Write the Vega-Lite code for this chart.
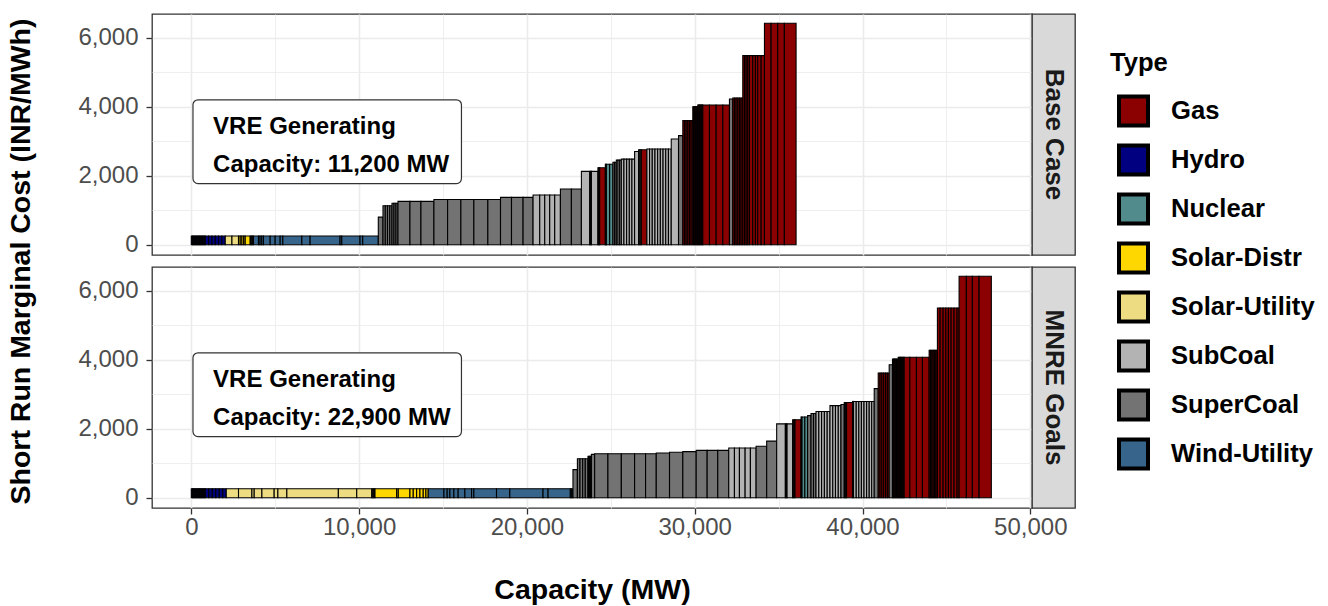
{
  "$schema": "https://vega.github.io/schema/vega-lite/v6.json",
  "background": "white",
  "padding": {"left": 6, "top": 13, "right": 0, "bottom": 0},
  "config": {
    "font": "Liberation Sans",
    "view": {"stroke": "#333333", "strokeWidth": 1.3},
    "axis": {
      "domain": false,
      "gridColor": "#EBEBEB",
      "tickColor": "#333333",
      "tickSize": 6,
      "tickWidth": 1.3,
      "labelFont": "Liberation Sans",
      "labelFontSize": 24,
      "labelColor": "#4D4D4D",
      "labelFlush": false,
      "labelOverlap": false,
      "titleFont": "Liberation Sans",
      "titleFontSize": 28.5,
      "titleFontWeight": "bold",
      "titleColor": "#000000"
    },
    "legend": {
      "orient": "none",
      "legendX": 958,
      "legendY": 37,
      "padding": 0,
      "titleFont": "Liberation Sans",
      "titleFontSize": 25.6,
      "titleFontWeight": "bold",
      "titleColor": "#000000",
      "titlePadding": 18,
      "labelFont": "Liberation Sans",
      "labelFontSize": 25.6,
      "labelFontWeight": "bold",
      "labelColor": "#000000",
      "labelOffset": 21,
      "symbolType": "square",
      "symbolSize": 841,
      "symbolStrokeWidth": 4,
      "symbolStrokeColor": "#000000",
      "symbolOffset": 7,
      "rowPadding": 4
    }
  },
  "datasets": {
    "base": [
      {"type":"Hydro","x0":0,"x1":70,"cost":250},
      {"type":"Hydro","x0":70,"x1":140,"cost":250},
      {"type":"Hydro","x0":140,"x1":210,"cost":250},
      {"type":"Hydro","x0":210,"x1":280,"cost":250},
      {"type":"Hydro","x0":280,"x1":350,"cost":250},
      {"type":"Hydro","x0":350,"x1":420,"cost":250},
      {"type":"Hydro","x0":420,"x1":490,"cost":250},
      {"type":"Hydro","x0":490,"x1":560,"cost":250},
      {"type":"Hydro","x0":560,"x1":630,"cost":250},
      {"type":"Hydro","x0":630,"x1":700,"cost":250},
      {"type":"Hydro","x0":700,"x1":770,"cost":250},
      {"type":"Hydro","x0":770,"x1":833,"cost":250},
      {"type":"Hydro","x0":833,"x1":1031,"cost":250},
      {"type":"Hydro","x0":1031,"x1":1229,"cost":250},
      {"type":"Hydro","x0":1229,"x1":1427,"cost":250},
      {"type":"Hydro","x0":1427,"x1":1625,"cost":250},
      {"type":"Hydro","x0":1625,"x1":1823,"cost":250},
      {"type":"Hydro","x0":1823,"x1":2023,"cost":250},
      {"type":"Solar-Utility","x0":2023,"x1":2422,"cost":250},
      {"type":"Solar-Utility","x0":2422,"x1":2814,"cost":250},
      {"type":"Solar-Distr","x0":2814,"x1":2916,"cost":250},
      {"type":"Solar-Distr","x0":2916,"x1":3017,"cost":250},
      {"type":"Solar-Distr","x0":3017,"x1":3124,"cost":250},
      {"type":"Solar-Distr","x0":3124,"x1":3213,"cost":250},
      {"type":"Solar-Distr","x0":3213,"x1":3511,"cost":250},
      {"type":"Solar-Distr","x0":3511,"x1":3570,"cost":250},
      {"type":"Solar-Distr","x0":3570,"x1":3640,"cost":250},
      {"type":"Solar-Distr","x0":3640,"x1":3707,"cost":250},
      {"type":"Wind-Utility","x0":3707,"x1":4004,"cost":250},
      {"type":"Wind-Utility","x0":4004,"x1":4100,"cost":250},
      {"type":"Wind-Utility","x0":4100,"x1":4200,"cost":250},
      {"type":"Wind-Utility","x0":4200,"x1":4302,"cost":250},
      {"type":"Wind-Utility","x0":4302,"x1":4700,"cost":250},
      {"type":"Wind-Utility","x0":4700,"x1":4998,"cost":250},
      {"type":"Wind-Utility","x0":4998,"x1":5296,"cost":250},
      {"type":"Wind-Utility","x0":5296,"x1":5455,"cost":250},
      {"type":"Wind-Utility","x0":5455,"x1":6587,"cost":250},
      {"type":"Wind-Utility","x0":6587,"x1":7081,"cost":250},
      {"type":"Wind-Utility","x0":7081,"x1":8866,"cost":250},
      {"type":"Wind-Utility","x0":8866,"x1":8967,"cost":250},
      {"type":"Wind-Utility","x0":8967,"x1":10055,"cost":250},
      {"type":"Wind-Utility","x0":10055,"x1":10216,"cost":250},
      {"type":"Wind-Utility","x0":10216,"x1":11144,"cost":250},
      {"type":"SuperCoal","x0":11144,"x1":11424,"cost":800},
      {"type":"SuperCoal","x0":11424,"x1":11561,"cost":1130},
      {"type":"SuperCoal","x0":11561,"x1":11692,"cost":1130},
      {"type":"SuperCoal","x0":11692,"x1":11829,"cost":1130},
      {"type":"SuperCoal","x0":11829,"x1":11960,"cost":1130},
      {"type":"SuperCoal","x0":11960,"x1":12079,"cost":1200},
      {"type":"SuperCoal","x0":12079,"x1":12198,"cost":1200},
      {"type":"SuperCoal","x0":12198,"x1":12317,"cost":1200},
      {"type":"SuperCoal","x0":12317,"x1":13030,"cost":1255},
      {"type":"SuperCoal","x0":13030,"x1":13685,"cost":1255},
      {"type":"SuperCoal","x0":13685,"x1":14459,"cost":1255},
      {"type":"SuperCoal","x0":14459,"x1":15274,"cost":1310},
      {"type":"SuperCoal","x0":15274,"x1":16065,"cost":1310},
      {"type":"SuperCoal","x0":16065,"x1":16839,"cost":1310},
      {"type":"SuperCoal","x0":16839,"x1":17672,"cost":1310},
      {"type":"SuperCoal","x0":17672,"x1":18427,"cost":1310},
      {"type":"SuperCoal","x0":18427,"x1":19082,"cost":1370},
      {"type":"SuperCoal","x0":19082,"x1":19772,"cost":1370},
      {"type":"SuperCoal","x0":19772,"x1":20367,"cost":1370},
      {"type":"SubCoal","x0":20367,"x1":20765,"cost":1440},
      {"type":"SubCoal","x0":20765,"x1":21063,"cost":1440},
      {"type":"SubCoal","x0":21063,"x1":21360,"cost":1440},
      {"type":"SubCoal","x0":21360,"x1":21658,"cost":1440},
      {"type":"SubCoal","x0":21658,"x1":21997,"cost":1440},
      {"type":"SuperCoal","x0":21997,"x1":22652,"cost":1615},
      {"type":"SuperCoal","x0":22652,"x1":23247,"cost":1615},
      {"type":"SubCoal","x0":23247,"x1":23741,"cost":2125},
      {"type":"SuperCoal","x0":23741,"x1":23800,"cost":2125},
      {"type":"SuperCoal","x0":23800,"x1":23843,"cost":2125},
      {"type":"SubCoal","x0":23843,"x1":24234,"cost":2125},
      {"type":"Gas","x0":24234,"x1":24290,"cost":2230},
      {"type":"Gas","x0":24290,"x1":24336,"cost":2230},
      {"type":"Gas","x0":24336,"x1":24675,"cost":2230},
      {"type":"Nuclear","x0":24675,"x1":24705,"cost":2330},
      {"type":"Nuclear","x0":24705,"x1":24735,"cost":2330},
      {"type":"Nuclear","x0":24735,"x1":24932,"cost":2330},
      {"type":"Nuclear","x0":24932,"x1":25127,"cost":2330},
      {"type":"SuperCoal","x0":25127,"x1":25230,"cost":2390},
      {"type":"SuperCoal","x0":25230,"x1":25329,"cost":2390},
      {"type":"SubCoal","x0":25329,"x1":25430,"cost":2450},
      {"type":"SubCoal","x0":25430,"x1":25530,"cost":2450},
      {"type":"SubCoal","x0":25530,"x1":25627,"cost":2450},
      {"type":"SubCoal","x0":25627,"x1":25782,"cost":2480},
      {"type":"SubCoal","x0":25782,"x1":25943,"cost":2480},
      {"type":"SubCoal","x0":25943,"x1":26104,"cost":2480},
      {"type":"SubCoal","x0":26104,"x1":26259,"cost":2480},
      {"type":"SubCoal","x0":26259,"x1":26418,"cost":2480},
      {"type":"SubCoal","x0":26418,"x1":26656,"cost":2700},
      {"type":"SuperCoal","x0":26656,"x1":26740,"cost":2750},
      {"type":"SuperCoal","x0":26740,"x1":26817,"cost":2750},
      {"type":"Gas","x0":26817,"x1":27150,"cost":2750},
      {"type":"SubCoal","x0":27150,"x1":27310,"cost":2775},
      {"type":"SubCoal","x0":27310,"x1":27471,"cost":2775},
      {"type":"SubCoal","x0":27471,"x1":27632,"cost":2775},
      {"type":"SubCoal","x0":27632,"x1":27792,"cost":2775},
      {"type":"SubCoal","x0":27792,"x1":27953,"cost":2775},
      {"type":"SubCoal","x0":27953,"x1":28114,"cost":2775},
      {"type":"SubCoal","x0":28114,"x1":28274,"cost":2775},
      {"type":"SubCoal","x0":28274,"x1":28435,"cost":2775},
      {"type":"SubCoal","x0":28435,"x1":28601,"cost":2775},
      {"type":"SubCoal","x0":28601,"x1":29036,"cost":3065},
      {"type":"SuperCoal","x0":29036,"x1":29292,"cost":3160},
      {"type":"Gas","x0":29292,"x1":29391,"cost":3600},
      {"type":"Gas","x0":29391,"x1":29490,"cost":3600},
      {"type":"Gas","x0":29490,"x1":29589,"cost":3600},
      {"type":"Gas","x0":29589,"x1":29688,"cost":3600},
      {"type":"Gas","x0":29688,"x1":29787,"cost":3600},
      {"type":"Gas","x0":29787,"x1":29887,"cost":3600},
      {"type":"Gas","x0":29887,"x1":29947,"cost":4000},
      {"type":"Gas","x0":29947,"x1":30007,"cost":4000},
      {"type":"Gas","x0":30007,"x1":30067,"cost":4000},
      {"type":"Gas","x0":30067,"x1":30127,"cost":4000},
      {"type":"Gas","x0":30127,"x1":30185,"cost":4000},
      {"type":"Gas","x0":30185,"x1":30245,"cost":4050},
      {"type":"Gas","x0":30245,"x1":30305,"cost":4050},
      {"type":"Gas","x0":30305,"x1":30365,"cost":4050},
      {"type":"Gas","x0":30365,"x1":30425,"cost":4050},
      {"type":"Gas","x0":30425,"x1":30482,"cost":4050},
      {"type":"Gas","x0":30482,"x1":30881,"cost":4050},
      {"type":"Gas","x0":30881,"x1":31279,"cost":4050},
      {"type":"Gas","x0":31279,"x1":31675,"cost":4050},
      {"type":"Gas","x0":31675,"x1":32071,"cost":4050},
      {"type":"SuperCoal","x0":32071,"x1":32270,"cost":4225},
      {"type":"Gas","x0":32270,"x1":32369,"cost":4250},
      {"type":"Gas","x0":32369,"x1":32468,"cost":4250},
      {"type":"Gas","x0":32468,"x1":32567,"cost":4250},
      {"type":"Gas","x0":32567,"x1":32666,"cost":4250},
      {"type":"Gas","x0":32666,"x1":32765,"cost":4250},
      {"type":"Gas","x0":32765,"x1":32865,"cost":4250},
      {"type":"Gas","x0":32865,"x1":32966,"cost":5480},
      {"type":"Gas","x0":32966,"x1":33067,"cost":5480},
      {"type":"Gas","x0":33067,"x1":33162,"cost":5480},
      {"type":"Gas","x0":33162,"x1":33263,"cost":5480},
      {"type":"Gas","x0":33263,"x1":33459,"cost":5480},
      {"type":"Gas","x0":33459,"x1":33620,"cost":5480},
      {"type":"Gas","x0":33620,"x1":33757,"cost":5480},
      {"type":"Gas","x0":33757,"x1":33960,"cost":5480},
      {"type":"Gas","x0":33960,"x1":34157,"cost":5480},
      {"type":"Gas","x0":34157,"x1":34553,"cost":6420},
      {"type":"Gas","x0":34553,"x1":34947,"cost":6420},
      {"type":"Gas","x0":34947,"x1":35343,"cost":6420},
      {"type":"Gas","x0":35343,"x1":36041,"cost":6420}
    ],
    "mnre": [
      {"type":"Hydro","x0":0,"x1":70,"cost":260},
      {"type":"Hydro","x0":70,"x1":140,"cost":260},
      {"type":"Hydro","x0":140,"x1":210,"cost":260},
      {"type":"Hydro","x0":210,"x1":280,"cost":260},
      {"type":"Hydro","x0":280,"x1":350,"cost":260},
      {"type":"Hydro","x0":350,"x1":420,"cost":260},
      {"type":"Hydro","x0":420,"x1":490,"cost":260},
      {"type":"Hydro","x0":490,"x1":560,"cost":260},
      {"type":"Hydro","x0":560,"x1":630,"cost":260},
      {"type":"Hydro","x0":630,"x1":700,"cost":260},
      {"type":"Hydro","x0":700,"x1":770,"cost":260},
      {"type":"Hydro","x0":770,"x1":833,"cost":260},
      {"type":"Hydro","x0":833,"x1":1041,"cost":260},
      {"type":"Hydro","x0":1041,"x1":1250,"cost":260},
      {"type":"Hydro","x0":1250,"x1":1458,"cost":260},
      {"type":"Hydro","x0":1458,"x1":1667,"cost":260},
      {"type":"Hydro","x0":1667,"x1":1875,"cost":260},
      {"type":"Hydro","x0":1875,"x1":2083,"cost":260},
      {"type":"Solar-Utility","x0":2083,"x1":2814,"cost":260},
      {"type":"Solar-Utility","x0":2814,"x1":3612,"cost":260},
      {"type":"Solar-Utility","x0":3612,"x1":3749,"cost":260},
      {"type":"Solar-Utility","x0":3749,"x1":4207,"cost":260},
      {"type":"Solar-Utility","x0":4207,"x1":4939,"cost":260},
      {"type":"Solar-Utility","x0":4939,"x1":5159,"cost":260},
      {"type":"Solar-Utility","x0":5159,"x1":5694,"cost":260},
      {"type":"Solar-Utility","x0":5694,"x1":8764,"cost":260},
      {"type":"Solar-Utility","x0":8764,"x1":9859,"cost":260},
      {"type":"Solar-Utility","x0":9859,"x1":10752,"cost":260},
      {"type":"Solar-Distr","x0":10752,"x1":10820,"cost":260},
      {"type":"Solar-Distr","x0":10820,"x1":10890,"cost":260},
      {"type":"Solar-Distr","x0":10890,"x1":10948,"cost":260},
      {"type":"Solar-Distr","x0":10948,"x1":12239,"cost":260},
      {"type":"Solar-Distr","x0":12239,"x1":12334,"cost":260},
      {"type":"Solar-Distr","x0":12334,"x1":13031,"cost":260},
      {"type":"Solar-Distr","x0":13031,"x1":13227,"cost":260},
      {"type":"Solar-Distr","x0":13227,"x1":13429,"cost":260},
      {"type":"Solar-Distr","x0":13429,"x1":13626,"cost":260},
      {"type":"Solar-Distr","x0":13626,"x1":13822,"cost":260},
      {"type":"Solar-Distr","x0":13822,"x1":13983,"cost":260},
      {"type":"Solar-Distr","x0":13983,"x1":14119,"cost":260},
      {"type":"Wind-Utility","x0":14119,"x1":15054,"cost":260},
      {"type":"Wind-Utility","x0":15054,"x1":15250,"cost":260},
      {"type":"Wind-Utility","x0":15250,"x1":15411,"cost":260},
      {"type":"Wind-Utility","x0":15411,"x1":15649,"cost":260},
      {"type":"Wind-Utility","x0":15649,"x1":15905,"cost":260},
      {"type":"Wind-Utility","x0":15905,"x1":16303,"cost":260},
      {"type":"Wind-Utility","x0":16303,"x1":16702,"cost":260},
      {"type":"Wind-Utility","x0":16702,"x1":16839,"cost":260},
      {"type":"Wind-Utility","x0":16839,"x1":18189,"cost":260},
      {"type":"Wind-Utility","x0":18189,"x1":18981,"cost":260},
      {"type":"Wind-Utility","x0":18981,"x1":20962,"cost":260},
      {"type":"Wind-Utility","x0":20962,"x1":21260,"cost":260},
      {"type":"Wind-Utility","x0":21260,"x1":22589,"cost":260},
      {"type":"Wind-Utility","x0":22589,"x1":22670,"cost":260},
      {"type":"Wind-Utility","x0":22670,"x1":22745,"cost":260},
      {"type":"SuperCoal","x0":22745,"x1":23009,"cost":812},
      {"type":"SuperCoal","x0":23009,"x1":23163,"cost":1130},
      {"type":"SuperCoal","x0":23163,"x1":23324,"cost":1130},
      {"type":"SuperCoal","x0":23324,"x1":23479,"cost":1130},
      {"type":"SuperCoal","x0":23479,"x1":23640,"cost":1130},
      {"type":"SuperCoal","x0":23640,"x1":23708,"cost":1200},
      {"type":"SuperCoal","x0":23708,"x1":23776,"cost":1200},
      {"type":"SuperCoal","x0":23776,"x1":23843,"cost":1200},
      {"type":"SuperCoal","x0":23843,"x1":24038,"cost":1255},
      {"type":"SuperCoal","x0":24038,"x1":24829,"cost":1275},
      {"type":"SuperCoal","x0":24829,"x1":25627,"cost":1275},
      {"type":"SuperCoal","x0":25627,"x1":26418,"cost":1275},
      {"type":"SuperCoal","x0":26418,"x1":27072,"cost":1275},
      {"type":"SuperCoal","x0":27072,"x1":27709,"cost":1275},
      {"type":"SuperCoal","x0":27709,"x1":28500,"cost":1295},
      {"type":"SuperCoal","x0":28500,"x1":29292,"cost":1315},
      {"type":"SuperCoal","x0":29292,"x1":30089,"cost":1335},
      {"type":"SuperCoal","x0":30089,"x1":30743,"cost":1370},
      {"type":"SuperCoal","x0":30743,"x1":31374,"cost":1370},
      {"type":"SuperCoal","x0":31374,"x1":32029,"cost":1370},
      {"type":"SubCoal","x0":32029,"x1":32368,"cost":1440},
      {"type":"SubCoal","x0":32368,"x1":32666,"cost":1440},
      {"type":"SubCoal","x0":32666,"x1":33005,"cost":1440},
      {"type":"SubCoal","x0":33005,"x1":33320,"cost":1440},
      {"type":"SubCoal","x0":33320,"x1":33659,"cost":1440},
      {"type":"SuperCoal","x0":33659,"x1":34290,"cost":1490},
      {"type":"SuperCoal","x0":34290,"x1":34885,"cost":1640},
      {"type":"SubCoal","x0":34885,"x1":35403,"cost":2140},
      {"type":"SuperCoal","x0":35403,"x1":35450,"cost":2140},
      {"type":"SuperCoal","x0":35450,"x1":35504,"cost":2140},
      {"type":"SubCoal","x0":35504,"x1":35837,"cost":2140},
      {"type":"Gas","x0":35837,"x1":35910,"cost":2260},
      {"type":"Gas","x0":35910,"x1":35980,"cost":2260},
      {"type":"Gas","x0":35980,"x1":36337,"cost":2260},
      {"type":"Nuclear","x0":36337,"x1":36396,"cost":2340},
      {"type":"Nuclear","x0":36396,"x1":36563,"cost":2340},
      {"type":"Nuclear","x0":36563,"x1":36730,"cost":2340},
      {"type":"SuperCoal","x0":36730,"x1":36932,"cost":2380},
      {"type":"SuperCoal","x0":36932,"x1":37080,"cost":2440},
      {"type":"SuperCoal","x0":37080,"x1":37229,"cost":2440},
      {"type":"SubCoal","x0":37229,"x1":37396,"cost":2500},
      {"type":"SubCoal","x0":37396,"x1":37562,"cost":2500},
      {"type":"SubCoal","x0":37562,"x1":37729,"cost":2500},
      {"type":"SubCoal","x0":37729,"x1":37896,"cost":2500},
      {"type":"SubCoal","x0":37896,"x1":38062,"cost":2500},
      {"type":"SubCoal","x0":38062,"x1":38229,"cost":2670},
      {"type":"SubCoal","x0":38229,"x1":38389,"cost":2670},
      {"type":"SubCoal","x0":38389,"x1":38556,"cost":2670},
      {"type":"SubCoal","x0":38556,"x1":38716,"cost":2670},
      {"type":"SuperCoal","x0":38716,"x1":38913,"cost":2700},
      {"type":"SuperCoal","x0":38913,"x1":38980,"cost":2760},
      {"type":"SuperCoal","x0":38980,"x1":39050,"cost":2760},
      {"type":"Gas","x0":39050,"x1":39407,"cost":2760},
      {"type":"SubCoal","x0":39407,"x1":39466,"cost":2790},
      {"type":"SubCoal","x0":39466,"x1":39626,"cost":2790},
      {"type":"SubCoal","x0":39626,"x1":39781,"cost":2790},
      {"type":"SubCoal","x0":39781,"x1":39935,"cost":2790},
      {"type":"SubCoal","x0":39935,"x1":40090,"cost":2790},
      {"type":"SubCoal","x0":40090,"x1":40245,"cost":2790},
      {"type":"SubCoal","x0":40245,"x1":40400,"cost":2790},
      {"type":"SubCoal","x0":40400,"x1":40549,"cost":2790},
      {"type":"SubCoal","x0":40549,"x1":40698,"cost":2790},
      {"type":"SuperCoal","x0":40698,"x1":40936,"cost":3160},
      {"type":"Gas","x0":40936,"x1":41045,"cost":3610},
      {"type":"Gas","x0":41045,"x1":41154,"cost":3610},
      {"type":"Gas","x0":41154,"x1":41263,"cost":3610},
      {"type":"Gas","x0":41263,"x1":41372,"cost":3610},
      {"type":"Gas","x0":41372,"x1":41481,"cost":3610},
      {"type":"Gas","x0":41481,"x1":41590,"cost":3610},
      {"type":"SuperCoal","x0":41590,"x1":41787,"cost":3855},
      {"type":"Gas","x0":41787,"x1":41855,"cost":4020},
      {"type":"Gas","x0":41855,"x1":41923,"cost":4020},
      {"type":"Gas","x0":41923,"x1":41991,"cost":4020},
      {"type":"Gas","x0":41991,"x1":42059,"cost":4020},
      {"type":"Gas","x0":42059,"x1":42126,"cost":4020},
      {"type":"Gas","x0":42126,"x1":42197,"cost":4070},
      {"type":"Gas","x0":42197,"x1":42268,"cost":4070},
      {"type":"Gas","x0":42268,"x1":42339,"cost":4070},
      {"type":"Gas","x0":42339,"x1":42410,"cost":4070},
      {"type":"Gas","x0":42410,"x1":42483,"cost":4070},
      {"type":"Gas","x0":42483,"x1":42822,"cost":4070},
      {"type":"Gas","x0":42822,"x1":43215,"cost":4070},
      {"type":"Gas","x0":43215,"x1":43572,"cost":4070},
      {"type":"Gas","x0":43572,"x1":43971,"cost":4070},
      {"type":"Gas","x0":43971,"x1":44053,"cost":4270},
      {"type":"Gas","x0":44053,"x1":44135,"cost":4270},
      {"type":"Gas","x0":44135,"x1":44217,"cost":4270},
      {"type":"Gas","x0":44217,"x1":44299,"cost":4270},
      {"type":"Gas","x0":44299,"x1":44381,"cost":4270},
      {"type":"Gas","x0":44381,"x1":44464,"cost":4270},
      {"type":"Gas","x0":44464,"x1":44625,"cost":5500},
      {"type":"Gas","x0":44625,"x1":44803,"cost":5500},
      {"type":"Gas","x0":44803,"x1":44964,"cost":5500},
      {"type":"Gas","x0":44964,"x1":45119,"cost":5500},
      {"type":"Gas","x0":45119,"x1":45279,"cost":5500},
      {"type":"Gas","x0":45279,"x1":45458,"cost":5500},
      {"type":"Gas","x0":45458,"x1":45636,"cost":5500},
      {"type":"Gas","x0":45636,"x1":45756,"cost":5500},
      {"type":"Gas","x0":45756,"x1":46190,"cost":6420},
      {"type":"Gas","x0":46190,"x1":46547,"cost":6420},
      {"type":"Gas","x0":46547,"x1":46946,"cost":6420},
      {"type":"Gas","x0":46946,"x1":47677,"cost":6420}
    ]
  },
  "columns": 2,
  "spacing": {"row": 12, "column": 0},
  "bounds": "flush",
  "concat": [
    {
      "width": 880,
      "height": 241,
      "layer": [
        {
          "data": {"name": "base"},
          "mark": {"type": "rect", "stroke": "#000000", "strokeWidth": 1.1},
          "encoding": {
            "x": {"field": "x0", "type": "quantitative",
              "scale": {"domain": [-2342, 50101], "nice": false, "zero": false},
              "axis": {"values": [0,5000,10000,15000,20000,25000,30000,35000,40000,45000,50000],
                "labels": false, "ticks": false, "title": null,
                "gridWidth": {"condition": {"test": "datum.value % 10000 === 0", "value": 1.6}, "value": 0.8}}},
            "x2": {"field": "x1"},
            "y": {"field": "cost", "type": "quantitative",
              "scale": {"domain": [-299, 6687], "nice": false, "zero": false},
              "axis": {"values": [0,1000,2000,3000,4000,5000,6000], "format": ",d",
                "labelExpr": "datum.value % 2000 === 0 ? format(datum.value, ',d') : ''",
                "labelPadding": 8,
                "tickOpacity": {"condition": {"test": "datum.value % 2000 === 0", "value": 1}, "value": 0},
                "gridWidth": {"condition": {"test": "datum.value % 2000 === 0", "value": 1.6}, "value": 0.8},
                "title": "Short Run Marginal Cost (INR/MWh)", "titleY": 247, "titlePadding": 42}},
            "y2": {"datum": 0},
            "color": {"field": "type", "type": "nominal",
              "scale": {"domain": ["Gas","Hydro","Nuclear","Solar-Distr","Solar-Utility","SubCoal","SuperCoal","Wind-Utility"],
                "range": ["#8B0000","#000080","#528B8B","#FFD700","#EEDC82","#B3B3B3","#737373","#36648B"]},
              "legend": {"title": "Type"}}
          }
        },
        {
          "data": {"values": [{"label": "VRE Generating\nCapacity: 11,200 MW"}]},
          "mark": {"type": "rect", "fill": "#FFFFFF", "stroke": "#333333", "strokeWidth": 1.2, "cornerRadius": 5},
          "encoding": {
            "x": {"datum": 100, "type": "quantitative"},
            "x2": {"datum": 16100},
            "y": {"datum": 4200, "type": "quantitative"},
            "y2": {"datum": 1770}
          }
        },
        {
          "data": {"values": [{"label": "VRE Generating\nCapacity: 11,200 MW"}]},
          "mark": {"type": "text", "align": "left", "baseline": "middle", "fontSize": 24, "fontWeight": "bold", "color": "#000000", "lineBreak": "\n", "lineHeight": 38},
          "encoding": {
            "x": {"datum": 1300, "type": "quantitative"},
            "y": {"datum": 3420, "type": "quantitative"},
            "text": {"field": "label"}
          }
        }
      ]
    },
    {
      "width": 43,
      "height": 241,
      "view": {"fill": "#D9D9D9", "stroke": "#333333", "strokeWidth": 1.3},
      "data": {"values": [{"case": "Base Case"}]},
      "mark": {"type": "text", "angle": 90, "fontSize": 26, "fontWeight": "bold", "color": "#1A1A1A", "align": "center", "baseline": "middle"},
      "encoding": {
        "text": {"field": "case"},
        "x": {"datum": 0.5, "type": "quantitative", "scale": {"domain": [0, 1]}, "axis": null},
        "y": {"datum": 0.5, "type": "quantitative", "scale": {"domain": [0, 1]}, "axis": null}
      }
    },
    {
      "width": 880,
      "height": 241,
      "layer": [
        {
          "data": {"name": "mnre"},
          "mark": {"type": "rect", "stroke": "#000000", "strokeWidth": 1.1},
          "encoding": {
            "x": {"field": "x0", "type": "quantitative",
              "scale": {"domain": [-2342, 50101], "nice": false, "zero": false},
              "axis": {"values": [0,5000,10000,15000,20000,25000,30000,35000,40000,45000,50000], "format": ",d",
                "labelExpr": "datum.value % 10000 === 0 ? format(datum.value, ',d') : ''",
                "labelPadding": 1,
                "tickOpacity": {"condition": {"test": "datum.value % 10000 === 0", "value": 1}, "value": 0},
                "gridWidth": {"condition": {"test": "datum.value % 10000 === 0", "value": 1.6}, "value": 0.8},
                "title": "Capacity (MW)", "titlePadding": 36}},
            "x2": {"field": "x1"},
            "y": {"field": "cost", "type": "quantitative",
              "scale": {"domain": [-299, 6687], "nice": false, "zero": false},
              "axis": {"values": [0,1000,2000,3000,4000,5000,6000], "format": ",d",
                "labelExpr": "datum.value % 2000 === 0 ? format(datum.value, ',d') : ''",
                "labelPadding": 8,
                "tickOpacity": {"condition": {"test": "datum.value % 2000 === 0", "value": 1}, "value": 0},
                "gridWidth": {"condition": {"test": "datum.value % 2000 === 0", "value": 1.6}, "value": 0.8},
                "title": null}},
            "y2": {"datum": 0},
            "color": {"field": "type", "type": "nominal",
              "scale": {"domain": ["Gas","Hydro","Nuclear","Solar-Distr","Solar-Utility","SubCoal","SuperCoal","Wind-Utility"],
                "range": ["#8B0000","#000080","#528B8B","#FFD700","#EEDC82","#B3B3B3","#737373","#36648B"]},
              "legend": {"title": "Type"}}
          }
        },
        {
          "data": {"values": [{"label": "VRE Generating\nCapacity: 22,900 MW"}]},
          "mark": {"type": "rect", "fill": "#FFFFFF", "stroke": "#333333", "strokeWidth": 1.2, "cornerRadius": 5},
          "encoding": {
            "x": {"datum": 100, "type": "quantitative"},
            "x2": {"datum": 16100},
            "y": {"datum": 4200, "type": "quantitative"},
            "y2": {"datum": 1770}
          }
        },
        {
          "data": {"values": [{"label": "VRE Generating\nCapacity: 22,900 MW"}]},
          "mark": {"type": "text", "align": "left", "baseline": "middle", "fontSize": 24, "fontWeight": "bold", "color": "#000000", "lineBreak": "\n", "lineHeight": 38},
          "encoding": {
            "x": {"datum": 1300, "type": "quantitative"},
            "y": {"datum": 3420, "type": "quantitative"},
            "text": {"field": "label"}
          }
        }
      ]
    },
    {
      "width": 43,
      "height": 241,
      "view": {"fill": "#D9D9D9", "stroke": "#333333", "strokeWidth": 1.3},
      "data": {"values": [{"case": "MNRE Goals"}]},
      "mark": {"type": "text", "angle": 90, "fontSize": 26, "fontWeight": "bold", "color": "#1A1A1A", "align": "center", "baseline": "middle"},
      "encoding": {
        "text": {"field": "case"},
        "x": {"datum": 0.5, "type": "quantitative", "scale": {"domain": [0, 1]}, "axis": null},
        "y": {"datum": 0.5, "type": "quantitative", "scale": {"domain": [0, 1]}, "axis": null}
      }
    }
  ]
}
